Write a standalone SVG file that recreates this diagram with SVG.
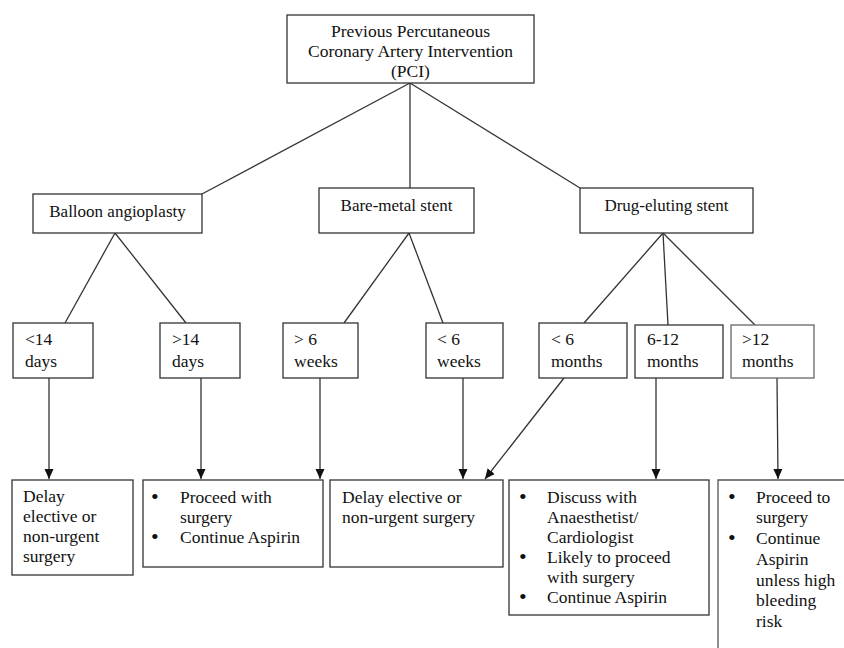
<svg xmlns="http://www.w3.org/2000/svg" width="844" height="648" viewBox="0 0 844 648">
<style>
.box{fill:#fff;stroke:#333;stroke-width:1.3}
.lbox{fill:#fff;stroke:#666;stroke-width:1.3}
.ln{fill:none;stroke:#333;stroke-width:1.3}
text{font-family:"Liberation Serif","Times New Roman",serif;fill:#111}
.t{font-size:17.5px}
.h{font-size:17px}
.c{text-anchor:middle}
.b{font-size:22px}
</style>
<defs>
<marker id="ah" viewBox="0 0 10 10" refX="10" refY="5" markerWidth="10" markerHeight="10" markerUnits="userSpaceOnUse" orient="auto">
<path d="M0,0.5 L10,5 L0,9.5 z" fill="#111"/>
</marker>
</defs>
<rect width="844" height="648" fill="#fff"/>
<g id="connectors">
<line class="ln" x1="410" y1="83" x2="202" y2="194"/>
<line class="ln" x1="410" y1="83" x2="410" y2="188"/>
<line class="ln" x1="410" y1="83" x2="580" y2="188"/>
<line class="ln" x1="115" y1="233" x2="65" y2="323"/>
<line class="ln" x1="115" y1="233" x2="186" y2="323"/>
<line class="ln" x1="409" y1="233" x2="344" y2="323"/>
<line class="ln" x1="409" y1="233" x2="443" y2="323"/>
<line class="ln" x1="663" y1="233" x2="584" y2="323"/>
<line class="ln" x1="663" y1="233" x2="668" y2="325"/>
<line class="ln" x1="663" y1="233" x2="755" y2="325"/>
<line class="ln" x1="49" y1="378" x2="49" y2="479" marker-end="url(#ah)"/>
<line class="ln" x1="201" y1="378" x2="201" y2="479" marker-end="url(#ah)"/>
<line class="ln" x1="320" y1="378" x2="320" y2="479" marker-end="url(#ah)"/>
<line class="ln" x1="463" y1="378" x2="463" y2="479" marker-end="url(#ah)"/>
<line class="ln" x1="564" y1="378" x2="485" y2="479" marker-end="url(#ah)"/>
<line class="ln" x1="656" y1="378" x2="656" y2="479" marker-end="url(#ah)"/>
<line class="ln" x1="777" y1="378" x2="778" y2="479" marker-end="url(#ah)"/>
</g>
<g id="pci">
<rect class="box" x="287" y="15" width="247" height="68"/>
<text class="t c" x="410.5" y="37">Previous Percutaneous</text>
<text class="t c" x="410.5" y="57">Coronary Artery Intervention</text>
<text class="t c" x="410.5" y="77">(PCI)</text>
</g>
<g id="balloon">
<rect class="box" x="33" y="194" width="169" height="39"/>
<text class="h c" x="117.5" y="217">Balloon angioplasty</text>
</g>
<g id="bare">
<rect class="box" x="319" y="188" width="155" height="45"/>
<text class="h c" x="396.5" y="211">Bare-metal stent</text>
</g>
<g id="drug">
<rect class="box" x="580" y="188" width="173" height="45"/>
<text class="h c" x="666.5" y="211">Drug-eluting stent</text>
</g>
<g id="lt14">
<rect class="box" x="13" y="323" width="80" height="55"/>
<text class="t" x="25" y="345">&lt;14</text>
<text class="t" x="25" y="367">days</text>
</g>
<g id="gt14">
<rect class="box" x="160" y="323" width="80" height="55"/>
<text class="t" x="172" y="345">&gt;14</text>
<text class="t" x="172" y="367">days</text>
</g>
<g id="gt6w">
<rect class="box" x="283" y="323" width="75" height="55"/>
<text class="t" x="294" y="345">&gt; 6</text>
<text class="t" x="294" y="367">weeks</text>
</g>
<g id="lt6w">
<rect class="box" x="426" y="323" width="77" height="55"/>
<text class="t" x="437" y="345">&lt; 6</text>
<text class="t" x="437" y="367">weeks</text>
</g>
<g id="lt6m">
<rect class="box" x="539" y="323" width="88" height="55"/>
<text class="t" x="551" y="345">&lt; 6</text>
<text class="t" x="551" y="367">months</text>
</g>
<g id="m612">
<rect class="box" x="635" y="325" width="88" height="53"/>
<text class="t" x="647" y="345">6-12</text>
<text class="t" x="647" y="367">months</text>
</g>
<g id="gt12m">
<rect class="lbox" x="731" y="325" width="83" height="53"/>
<text class="t" x="742" y="345">&gt;12</text>
<text class="t" x="742" y="367">months</text>
</g>
<g id="delay1">
<rect class="box" x="12" y="480" width="121" height="95"/>
<text class="t" x="23" y="502">Delay</text>
<text class="t" x="23" y="522">elective or</text>
<text class="t" x="23" y="542">non-urgent</text>
<text class="t" x="23" y="562">surgery</text>
</g>
<g id="proceed1">
<rect class="box" x="143" y="480" width="180" height="87"/>
<text class="b" x="151" y="504">•</text>
<text class="t" x="180" y="503">Proceed with</text>
<text class="t" x="180" y="523">surgery</text>
<text class="b" x="151" y="544">•</text>
<text class="t" x="180" y="543">Continue Aspirin</text>
</g>
<g id="delay2">
<rect class="box" x="330" y="480" width="173" height="87"/>
<text class="t" x="342" y="503">Delay elective or</text>
<text class="t" x="342" y="523">non-urgent surgery</text>
</g>
<g id="discuss">
<rect class="box" x="509" y="480" width="200" height="135"/>
<text class="b" x="519" y="504">•</text>
<text class="t" x="547" y="503">Discuss with</text>
<text class="t" x="547" y="523">Anaesthetist/</text>
<text class="t" x="547" y="543">Cardiologist</text>
<text class="b" x="519" y="564">•</text>
<text class="t" x="547" y="563">Likely to proceed</text>
<text class="t" x="547" y="583">with surgery</text>
<text class="b" x="519" y="604">•</text>
<text class="t" x="547" y="603">Continue Aspirin</text>
</g>
<g id="proceed2">
<path d="M844,480 H718 V648" fill="none" stroke="#555" stroke-width="1.3"/>
<text class="b" x="728" y="504">•</text>
<text class="t" x="756" y="503">Proceed to</text>
<text class="t" x="756" y="523">surgery</text>
<text class="b" x="728" y="545">•</text>
<text class="t" x="756" y="544">Continue</text>
<text class="t" x="756" y="565">Aspirin</text>
<text class="t" x="756" y="586">unless high</text>
<text class="t" x="756" y="606">bleeding</text>
<text class="t" x="756" y="627">risk</text>
</g>
</svg>
